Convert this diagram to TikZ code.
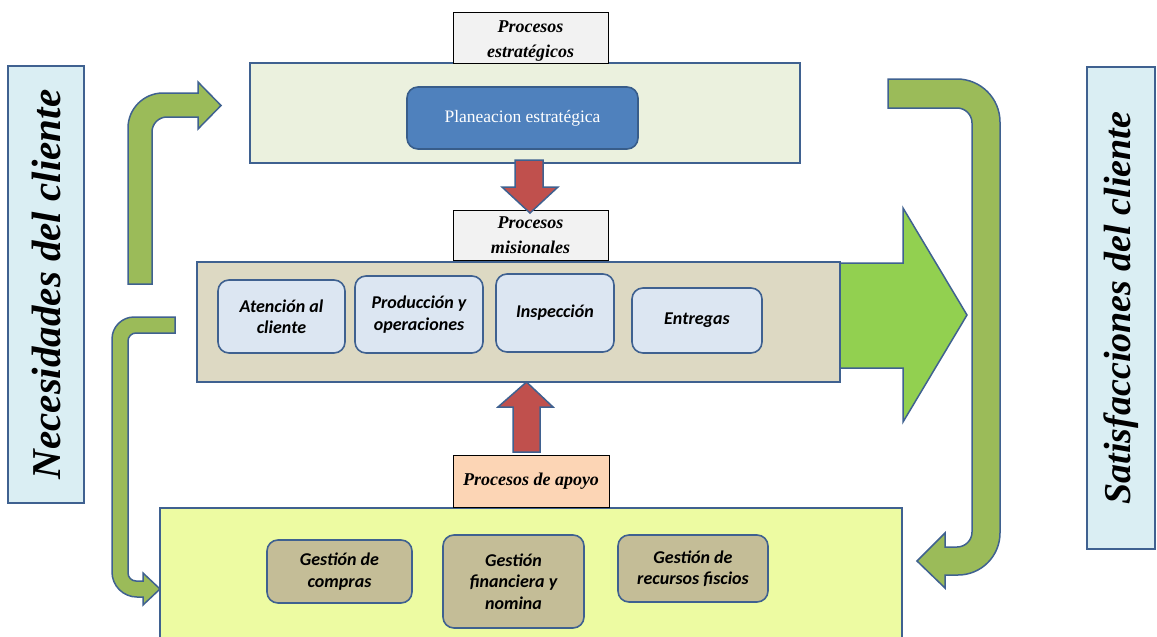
\documentclass[tikz,border=0pt]{standalone}
\usepackage{fontspec}
\setmainfont{Liberation Serif}
\newfontfamily\calib{Carlito}

\definecolor{edge}{HTML}{3F6190}
\definecolor{sideblue}{HTML}{DAEEF3}
\definecolor{stratfill}{HTML}{EBF1DE}
\definecolor{planfill}{HTML}{4F81BD}
\definecolor{planedge}{HTML}{385D8A}
\definecolor{misfill}{HTML}{DDD9C3}
\definecolor{stepblue}{HTML}{DCE6F2}
\definecolor{supfill}{HTML}{EDFBA2}
\definecolor{supstep}{HTML}{C4BD97}
\definecolor{tagGray}{HTML}{F2F2F2}
\definecolor{tagPeach}{HTML}{FCD5B5}
\definecolor{redarrow}{HTML}{C0504D}
\definecolor{olive}{HTML}{9BBB59}
\definecolor{brightgreen}{HTML}{92D050}

\begin{document}
\begin{tikzpicture}[x=1pt,y=-1pt,
  area/.style={draw=edge,line width=1.6pt,inner sep=0pt},
  stepbox/.style={draw=edge,line width=1.6pt,rounded corners=11pt,inner sep=0pt,
    align=center,font=\calib\bfseries\itshape\fontsize{18}{21.5}\selectfont},
  tagbox/.style={draw=black,line width=1pt,inner sep=0pt},
  tagtext/.style={align=center,inner sep=0pt,font=\bfseries\itshape\fontsize{18}{25}\selectfont},
  sidetext/.style={rotate=90,font=\bfseries\itshape},
  blockarrow/.style={draw=edge,line width=1.5pt,line join=miter}]
\clip (0,0) rectangle (1157,637);
\fill[white] (0,0) rectangle (1157,637);

% side panels
\node[area,fill=sideblue,minimum width=76pt,minimum height=437pt] (nec) at (46,284.5) {};
\node[sidetext,font=\bfseries\itshape\fontsize{41}{41}\selectfont] (necT) at (nec.center) {Necesidades del cliente};
\node[area,fill=sideblue,minimum width=68pt,minimum height=482pt] (sat) at (1121,308) {};
\node[sidetext,font=\bfseries\itshape\fontsize{38}{38}\selectfont] (satT) at (sat.center) {Satisfacciones del cliente};

% curved flow arrows
\draw[blockarrow,fill=olive] (128,284) -- (128,128) .. controls (128,108.7) and (143.7,93) .. (163,93)
  -- (198,93) -- (198,82) -- (221,105.5) -- (198,129) -- (198,117) -- (167,117)
  .. controls (158.7,117) and (152,123.7) .. (152,132) -- (152,284) -- cycle;
\draw[blockarrow,fill=olive] (175,317) -- (134,317) .. controls (121.9,317) and (112,326.9) .. (112,339)
  -- (112,572) .. controls (112,585.8) and (123.2,597) .. (137,597) -- (143,597) -- (143,605)
  -- (160,589) -- (143,573) -- (143,581) -- (136,581) .. controls (131.6,581) and (128,577.4) .. (128,573)
  -- (128,341) .. controls (128,336.6) and (131.6,333) .. (136,333) -- (175,333) -- cycle;
\draw[blockarrow,fill=olive] (888,79) -- (957,79) .. controls (980.7,79) and (1000,98.3) .. (1000,122)
  -- (1000,533) .. controls (1000,556.2) and (981.2,575) .. (958,575) -- (945,575) -- (945,588)
  -- (917,561) -- (945,533) -- (945,547) -- (957,547) .. controls (965.3,547) and (972,540.3) .. (972,532)
  -- (972,123) .. controls (972,114.7) and (965.3,108) .. (957,108) -- (888,108) -- cycle;

% output arrow of the core processes
\draw[blockarrow,fill=brightgreen] (840,263) -- (903,263) -- (903,208) -- (967,315)
  -- (903,422) -- (903,368) -- (840,368) -- cycle;

% strategic processes
\node[area,fill=stratfill,minimum width=550pt,minimum height=100pt] (strat) at (525,113) {};
\node[tagbox,fill=tagGray,minimum width=155pt,minimum height=51pt] (tagE) at (530.5,37.5) {};
\node[tagtext] (tagEtxt) at ([yshift=-3.5pt]tagE.center) {Procesos\\estratégicos};
\node[draw=planedge,line width=1.6pt,fill=planfill,rounded corners=11pt,minimum width=231pt,
  minimum height=62pt,text=white,font=\fontsize{17.5}{20}\selectfont] (plan) at (522.5,118) {Planeacion estratégica};

% core processes
\node[tagbox,fill=tagGray,minimum width=155pt,minimum height=50pt] (tagM) at (530.5,235) {};
\node[tagtext] (tagMtxt) at ([yshift=-0.5pt]tagM.center) {Procesos\\misionales};
\node[area,fill=misfill,minimum width=643pt,minimum height=120pt] (mis) at (518.5,322) {};
\node[stepbox,fill=stepblue,minimum width=127pt,minimum height=73pt] (aten) at (281.5,316.5) {Atención al\\cliente};
\node[stepbox,fill=stepblue,minimum width=128pt,minimum height=77pt] (prod) at (419,314.5) {Producción y\\operaciones};
\node[stepbox,fill=stepblue,minimum width=118pt,minimum height=78pt] (insp) at (555,313) {Inspección};
\node[stepbox,fill=stepblue,minimum width=130pt,minimum height=65pt] (entr) at (697,320.5) {Entregas};

% support processes
\node[area,fill=supfill,minimum width=742pt,minimum height=137pt] (apoyo) at (531,576.5) {};
\node[tagbox,fill=tagPeach,minimum width=156pt,minimum height=52pt] (tagA) at (531,481) {};
\node[tagtext] (tagAtxt) at (tagA.center) {Procesos de apoyo};
\node[stepbox,fill=supstep,minimum width=145pt,minimum height=63pt] (comp) at (339.5,571.5) {Gestión de\\compras};
\node[stepbox,fill=supstep,minimum width=141pt,minimum height=93pt] (fin) at (513.5,581.5) {Gestión\\financiera y\\nomina};
\node[stepbox,fill=supstep,minimum width=150pt,minimum height=67pt] (recu) at (693,568.5) {Gestión de\\recursos fiscios};

% vertical links between the levels
\draw[blockarrow,fill=redarrow] (515,160) -- (543,160) -- (543,187) -- (558,187) -- (530,213)
  -- (502,187) -- (515,187) -- cycle;
\draw[blockarrow,fill=redarrow] (513,452) -- (540,452) -- (540,407) -- (553,407) -- (526.5,382)
  -- (498,407) -- (513,407) -- cycle;
\end{tikzpicture}
\end{document}
